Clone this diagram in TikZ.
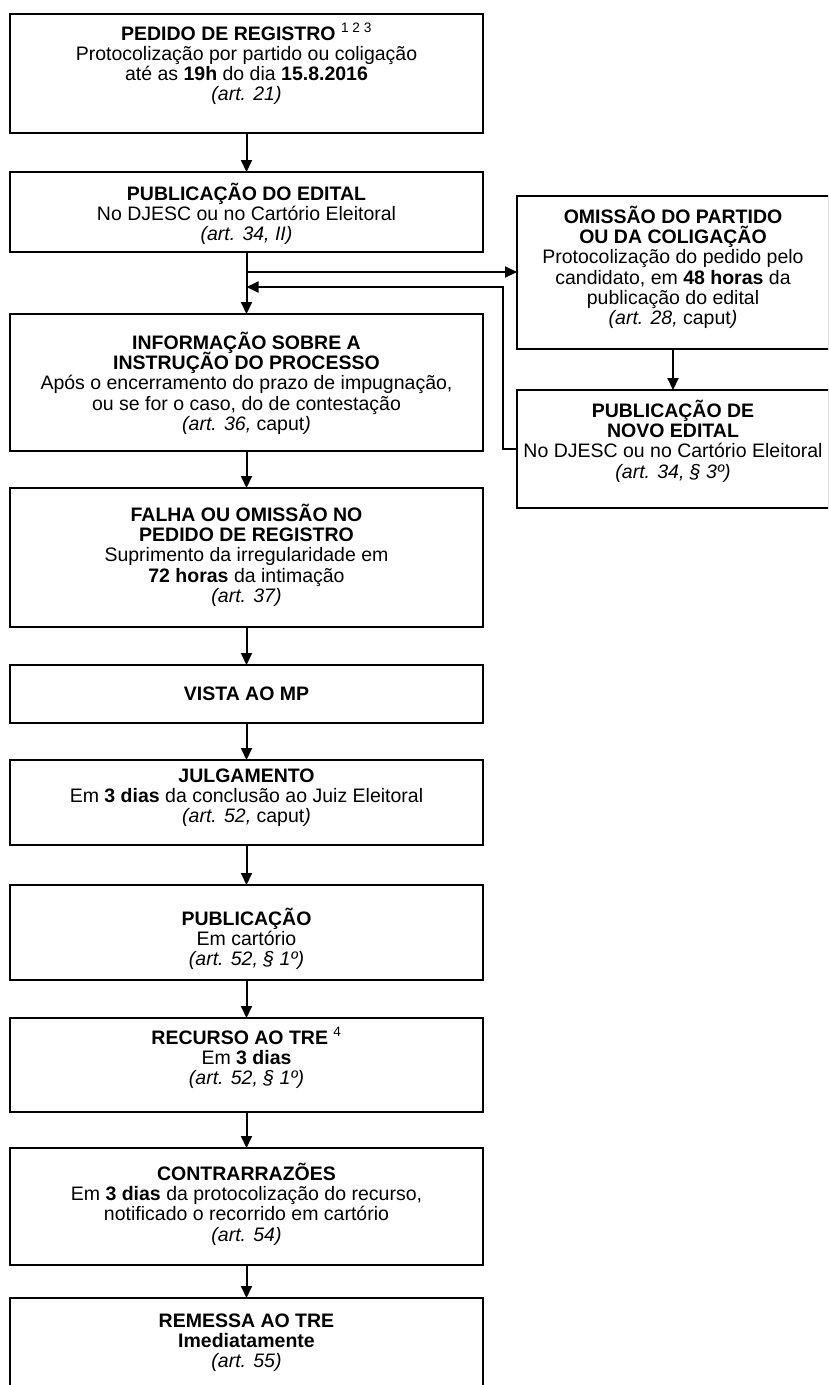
\documentclass[tikz,border=0pt]{standalone}
\usepackage{fontspec}
\setmainfont{Liberation Sans}
\usetikzlibrary{arrows.meta}
\newcommand\boxfont{\fontsize{19.5pt}{20.2pt}\selectfont\lineskiplimit -40pt\relax\lineskip 0pt\relax}
\begin{document}
\begin{tikzpicture}[x=1pt,y=-1pt,
  box/.style={draw=black,line width=2pt,minimum width=473pt,inner sep=0pt,outer sep=0pt},
  rbox/.style={box,minimum width=312pt},
  txt/.style={anchor=north,align=center,inner sep=0pt,font=\boxfont},
  arr/.style={line width=2pt,-{Triangle[length=12pt,width=11pt]}}]
\clip (0,0) rectangle (828,1385);
\fill[white] (0,0) rectangle (828,1385);
% boxes
\node[box,minimum height=119pt] (b1) at (246.5,73.5) {};
\node[box,minimum height=80pt] (b2) at (246.5,212) {};
\node[box,minimum height=137pt] (b3) at (246.5,382.5) {};
\node[box,minimum height=139pt] (b4) at (246.5,557.5) {};
\node[box,minimum height=58pt] (b5) at (246.5,694) {};
\node[box,minimum height=85pt] (b6) at (246.5,802.5) {};
\node[box,minimum height=95pt] (b7) at (246.5,932.5) {};
\node[box,minimum height=94pt] (b8) at (246.5,1065) {};
\node[box,minimum height=117pt] (b9) at (246.5,1206.5) {};
\node[box,minimum height=122pt] (b10) at (246.5,1359) {};
\node[rbox,minimum height=153pt] (r1) at (673,272.5) {};
\node[rbox,minimum height=118pt] (r2) at (673,449) {};
% texts (anchor north = first baseline - 14.14)
\node[txt] (t1) at (246.5,22.9) {\strut\textbf{PEDIDO DE REGISTRO} \textsuperscript{1 2 3}\\
  Protocolização por partido ou coligação\\
  até as \textbf{19h} do dia \textbf{15.8.2016}\\
  \textit{(art. 21)}};
\node[txt] (t2) at (246.5,182.9) {\strut\textbf{PUBLICAÇÃO DO EDITAL}\\
  No DJESC ou no Cartório Eleitoral\\
  \textit{(art. 34, II)}};
\node[txt] (t3) at (246.5,331.9) {\strut\textbf{INFORMAÇÃO SOBRE A}\\
  \textbf{INSTRUÇÃO DO PROCESSO}\\
  Após o encerramento do prazo de impugnação,\\
  ou se for o caso, do de contestação\\
  \textit{(art. 36,} caput\textit{)}};
\node[txt] (t4) at (246.5,503.9) {\strut\textbf{FALHA OU OMISSÃO NO}\\
  \textbf{PEDIDO DE REGISTRO}\\
  Suprimento da irregularidade em\\
  \textbf{72 horas} da intimação\\
  \textit{(art. 37)}};
\node[txt] (t5) at (246.5,685.9) {\strut\textbf{VISTA AO MP}};
\node[txt] (t6) at (246.5,767.9) {\strut\textbf{JULGAMENTO}\\
  Em \textbf{3 dias} da conclusão ao Juiz Eleitoral\\
  \textit{(art. 52,} caput\textit{)}};
\node[txt] (t7) at (246.5,907.9) {\strut\textbf{PUBLICAÇÃO}\\
  Em cartório\\
  \textit{(art. 52, § 1º)}};
\node[txt] (t8) at (246.5,1026.9) {\strut\textbf{RECURSO AO TRE} \textsuperscript{4}\\
  Em \textbf{3 dias}\\
  \textit{(art. 52, § 1º)}};
\node[txt] (t9) at (246.5,1162.9) {\strut\textbf{CONTRARRAZÕES}\\
  Em \textbf{3 dias} da protocolização do recurso,\\
  notificado o recorrido em cartório\\
  \textit{(art. 54)}};
\node[txt] (t10) at (246.5,1312.9) {\strut\textbf{REMESSA AO TRE}\\
  \textbf{Imediatamente}\\
  \textit{(art. 55)}};
\node[txt] (tr1) at (673,205.9) {\strut\textbf{OMISSÃO DO PARTIDO}\\
  \textbf{OU DA COLIGAÇÃO}\\
  Protocolização do pedido pelo\\
  candidato, em \textbf{48 horas} da\\
  publicação do edital\\
  \textit{(art. 28,} caput\textit{)}};
\node[txt] (tr2) at (673,399.9) {\strut\textbf{PUBLICAÇÃO DE}\\
  \textbf{NOVO EDITAL}\\
  No DJESC ou no Cartório Eleitoral\\
  \textit{(art. 34, § 3º)}};
% connectors
\draw[arr] (b1.south) -- (b2.north);
\draw[arr] (b2.south) -- (b3.north);
\coordinate (j1) at (246.5,272);
\coordinate (j2) at (246.5,287);
\coordinate (k1) at (503,287);
\draw[arr] (j1) -- (j1 -| r1.west);
\draw[arr] (r1.south) -- (r2.north);
\draw[arr] (r2.west) -| (k1) -- (j2);
\draw[arr] (b3.south) -- (b4.north);
\draw[arr] (b4.south) -- (b5.north);
\draw[arr] (b5.south) -- (b6.north);
\draw[arr] (b6.south) -- (b7.north);
\draw[arr] (b7.south) -- (b8.north);
\draw[arr] (b8.south) -- (b9.north);
\draw[arr] (b9.south) -- (b10.north);
\end{tikzpicture}
\end{document}
